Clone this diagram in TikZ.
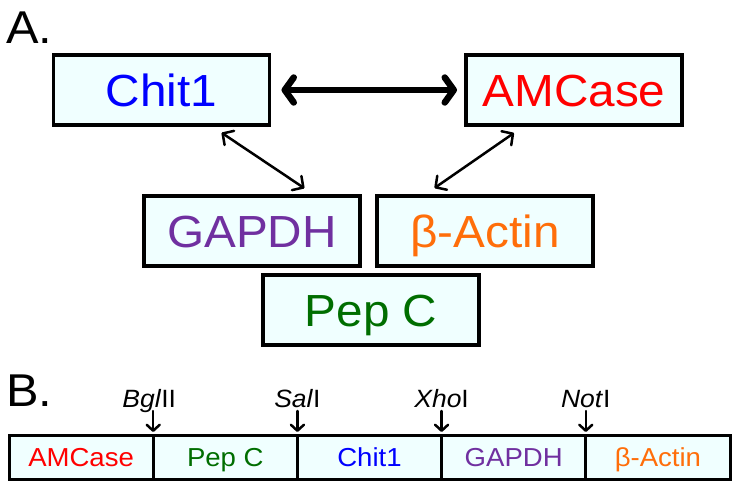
\documentclass[tikz,border=0pt]{standalone}
\usepackage{fontspec}
\setmainfont[FakeStretch=1.06]{Liberation Sans}
\usetikzlibrary{arrows.meta}
\usetikzlibrary{positioning}
\definecolor{boxfill}{RGB}{240,255,255}
\definecolor{chitblue}{RGB}{0,0,255}
\definecolor{amcred}{RGB}{255,0,0}
\definecolor{gapdhpurple}{RGB}{112,48,160}
\definecolor{actinorange}{RGB}{255,110,10}
\definecolor{pepgreen}{RGB}{0,110,0}

\begin{document}
\begin{tikzpicture}[x=1pt,y=-1pt,>={Straight Barb[length=8pt,width=17pt,round]},line cap=round,
    gene node/.style={rectangle,draw,line width=3.5pt,fill=boxfill,minimum width=216pt,
                      minimum height=70pt,inner sep=0pt,outer sep=0pt,text height=32pt,text depth=0pt,
                      font=\fontsize{45}{49}\selectfont},
    part node/.style={rectangle,draw,line width=3pt,fill=boxfill,minimum width=144.2pt,
                      minimum height=44pt,inner sep=0pt,outer sep=0pt,text height=18pt,text depth=0pt,
                      font=\fontsize{26}{30}\selectfont},
    site label/.style={anchor=base,inner sep=0pt,font=\fontsize{25}{29}\selectfont},
    panel label/.style={anchor=base west,inner sep=0pt,font=\fontsize{46}{50}\selectfont}]

      \useasboundingbox (0,0) rectangle (740,490);

      % panel A
      \node[panel label] (pa) at (6,43) {A.};
      \node[gene node,text=chitblue] (chit) at (161.5,90) {Chit1};
      \node[gene node,text=amcred] (amcase) [right=196.5pt of chit] {AMCase};
      \node[gene node,text=gapdhpurple] (gapdh) at (252,231) {GAPDH};
      \node[gene node,text=actinorange] (actin) [right=17pt of gapdh] {β-Actin};
      \node[gene node,text=pepgreen] (pepc) [below=9pt of gapdh.south east,xshift=11pt] {Pep C};
      \path[line width=6.5pt,<->,>={Straight Barb[length=9pt,width=25pt,round]},shorten <=12pt,shorten >=9pt]
        (chit) edge (amcase);
      \path[line width=2.5pt,<->,shorten <=14pt,shorten >=14pt]
        ([xshift=48.5pt]chit.south) edge ([xshift=64pt]gapdh.north)
        ([xshift=-48.5pt]amcase.south) edge ([xshift=-62pt]actin.north);

      % panel B
      \node[panel label] (pb) at (6,406) {B.};
      \node[part node,text=amcred] (s1) at (81.1,457) {AMCase};
      \node[part node,text=pepgreen] (s2) [right=0pt of s1] {Pep C};
      \node[part node,text=chitblue] (s3) [right=0pt of s2] {Chit1};
      \node[part node,text=gapdhpurple] (s4) [right=0pt of s3] {GAPDH};
      \node[part node,text=actinorange] (s5) [right=0pt of s4] {β-Actin};
      \coordinate[above=24pt of s1.north east] (bgl);
      \coordinate[above=24pt of s2.north east] (sal);
      \coordinate[above=24pt of s3.north east] (xho);
      \coordinate[above=24pt of s4.north east] (not);
      \node[site label,xshift=-4pt] (bgltxt) at ([yshift=4pt]bgl) {\textit{Bgl}II};
      \node[site label] (saltxt) at ([yshift=4pt]sal) {\textit{Sal}I};
      \node[site label] (xhotxt) at ([yshift=4pt]xho) {\textit{Xho}I};
      \node[site label] (nottxt) at ([yshift=4pt]not) {\textit{Not}I};
      \path[line width=2.5pt,->,>={Straight Barb[length=6pt,width=13pt,round]},shorten >=3pt]
        (bgl) edge (s1.north east)
        (sal) edge (s2.north east)
        (xho) edge (s3.north east)
        (not) edge (s4.north east);
\end{tikzpicture}
\end{document}
